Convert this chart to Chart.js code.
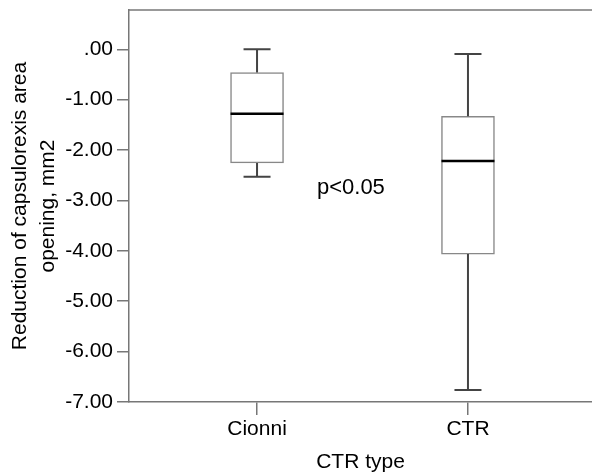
<!DOCTYPE html>
<html>
<head>
<meta charset="utf-8">
<script src="https://cdn.jsdelivr.net/npm/chart.js@4.4.0/dist/chart.umd.min.js"></script>
<style>
  html, body { margin: 0; padding: 0; background: #fff; }
  #wrap { width: 592px; height: 475px; position: relative; }
</style>
</head>
<body>
<div id="wrap"><canvas id="c" width="592" height="475"></canvas></div>
<script>
// ---- data ----
const categories  = ['Cionni', 'CTR'];
const whiskerLow  = [-2.53, -6.76];
const q1          = [-2.255, -4.065];
const median      = [-1.28, -2.215];
const q3          = [-0.46, -1.33];
const whiskerHigh = [0.00, -0.093];
const yTickValues = [-7, -6, -5, -4, -3, -2, -1, 0];
const yTitle      = ['Reduction of capsulorexis area', 'opening, mm2'];
const xTitle      = 'CTR type';
const annotationText = 'p<0.05';
const annotationPos  = { x: 1.445, y: -2.756 };

const FONT = "'Liberation Sans', Arial, Helvetica, sans-serif";
const AXIS_COLOR = '#777';

const boxData = categories.map((c, i) => ({ x: i + 1, y: [q1[i], q3[i]] }));

const boxPlugin = {
  id: 'boxExtras',
  afterDatasetsDraw(chart) {
    const { ctx, chartArea, scales: { x, y } } = chart;
    ctx.save();
    // top frame line
    ctx.strokeStyle = AXIS_COLOR;
    ctx.lineWidth = 1.5;
    ctx.beginPath();
    ctx.moveTo(chartArea.left, chartArea.top);
    ctx.lineTo(chartArea.right, chartArea.top);
    ctx.stroke();

    categories.forEach((c, i) => {
      const cx = x.getPixelForValue(i + 1);
      const capHalf = 13.5, boxHalf = 26.5;
      ctx.strokeStyle = '#444';
      ctx.lineWidth = 2;
      ctx.beginPath();
      // upper whisker
      ctx.moveTo(cx, y.getPixelForValue(q3[i]));
      ctx.lineTo(cx, y.getPixelForValue(whiskerHigh[i]));
      ctx.moveTo(cx - capHalf, y.getPixelForValue(whiskerHigh[i]));
      ctx.lineTo(cx + capHalf, y.getPixelForValue(whiskerHigh[i]));
      // lower whisker
      ctx.moveTo(cx, y.getPixelForValue(q1[i]));
      ctx.lineTo(cx, y.getPixelForValue(whiskerLow[i]));
      ctx.moveTo(cx - capHalf, y.getPixelForValue(whiskerLow[i]));
      ctx.lineTo(cx + capHalf, y.getPixelForValue(whiskerLow[i]));
      ctx.stroke();
      // median
      ctx.strokeStyle = '#000';
      ctx.lineWidth = 2.5;
      ctx.beginPath();
      ctx.moveTo(cx - boxHalf, y.getPixelForValue(median[i]));
      ctx.lineTo(cx + boxHalf, y.getPixelForValue(median[i]));
      ctx.stroke();
    });

    // annotation text
    ctx.fillStyle = '#000';
    ctx.font = '22px ' + FONT;
    ctx.textAlign = 'center';
    ctx.textBaseline = 'middle';
    ctx.fillText(annotationText, x.getPixelForValue(annotationPos.x), y.getPixelForValue(annotationPos.y));
    ctx.restore();
  }
};

new Chart(document.getElementById('c'), {
  type: 'bar',
  data: {
    datasets: [{
      data: boxData,
      backgroundColor: '#fff',
      borderColor: '#888',
      borderWidth: 1.5,
      borderSkipped: false,
      barThickness: 53
    }]
  },
  options: {
    responsive: false,
    animation: false,
    events: [],
    layout: { padding: { top: 10, right: 0, left: 0, bottom: 0 } },
    plugins: { legend: { display: false }, tooltip: { enabled: false } },
    scales: {
      x: {
        type: 'linear',
        offset: false,
        min: 0.393,
        max: 2.588,
        afterBuildTicks: (s) => { s.ticks = categories.map((c, i) => ({ value: i + 1 })); },
        afterFit: (s) => { s.height = 73; s.paddingLeft = 0; s.paddingRight = 0; },
        ticks: {
          callback: (v) => categories[Math.round(v) - 1] || '',
          color: '#000',
          font: { family: FONT, size: 21 },
          padding: 2,
          maxRotation: 0,
          autoSkip: false
        },
        grid: { offset: false, drawOnChartArea: false, drawTicks: true, tickLength: 13, color: AXIS_COLOR, lineWidth: 1.5 },
        border: { display: true, color: AXIS_COLOR, width: 1.5 },
        title: { display: true, text: xTitle, color: '#000', font: { family: FONT, size: 21 }, padding: { top: 0, bottom: 0 } }
      },
      y: {
        type: 'linear',
        min: -7,
        max: 0.78,
        afterBuildTicks: (s) => { s.ticks = yTickValues.map(v => ({ value: v })); },
        afterFit: (s) => { s.width = 129; s.paddingTop = 0; s.paddingBottom = 0; },
        ticks: {
          callback: (v) => (v === 0 ? '.00' : v.toFixed(2)),
          color: '#000',
          font: { family: FONT, size: 21 },
          padding: 4,
          autoSkip: false
        },
        grid: { drawOnChartArea: false, drawTicks: true, tickLength: 12, color: AXIS_COLOR, lineWidth: 1.5 },
        border: { display: true, color: AXIS_COLOR, width: 1.5 },
        title: { display: true, text: yTitle, color: '#000', font: { family: FONT, size: 21, lineHeight: 1.35 }, padding: { top: 6, bottom: 0 } }
      }
    }
  },
  plugins: [boxPlugin]
});
</script>
</body>
</html>
